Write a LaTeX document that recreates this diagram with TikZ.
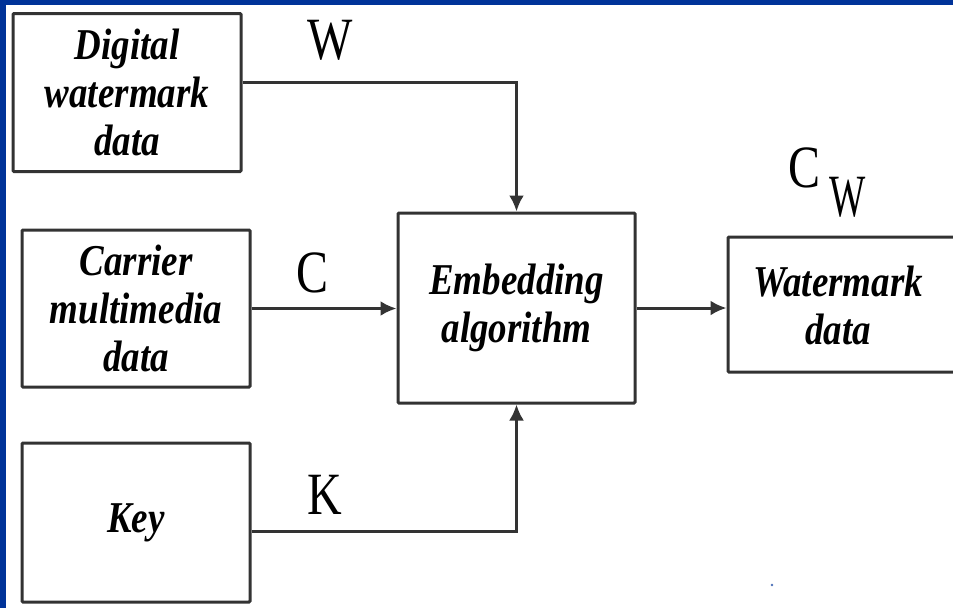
\documentclass[tikz,border=0pt]{standalone}
\usepackage{fontspec}
\setmainfont{Liberation Serif}
\newfontfamily\boxfont{Liberation Serif}[FakeStretch=0.84]
\newfontfamily\labfont{Liberation Serif}[FakeStretch=0.8]
\usetikzlibrary{arrows.meta,calc}
\definecolor{frameblue}{HTML}{003399}
\definecolor{ink}{HTML}{333333}
\tikzset{
  block/.style={draw=ink, line width=3pt, rounded corners=1pt, fill=white,
    inner sep=0pt, align=center,
    font=\boxfont\bfseries\itshape\fontsize{44}{48}\selectfont},
  conn/.style={draw=ink, line width=3pt,
    -{Latex[length=16pt,width=15pt]}},
  sig/.style={inner sep=0pt, text depth=0pt,
    font=\labfont\fontsize{60}{60}\selectfont}
}
\begin{document}
\begin{tikzpicture}[x=1pt, y=-1pt]
  \useasboundingbox (0,0) rectangle (953,608);
  \fill[white] (0,0) rectangle (953,608);

  % source blocks
  \node[block, minimum width=228pt, minimum height=158pt] (dig) at (127,92.5)
    {Digital\\watermark\\data};
  \node[block, minimum width=228pt, minimum height=157pt] (car) at (136,308.5)
    {Carrier\\multimedia\\data};
  \node[block, minimum width=228pt, minimum height=159pt] (key) at (136,522.5)
    {Key};

  % embedding stage
  \node[block, minimum width=237pt, minimum height=190pt] (emb) at (516.5,308)
    {Embedding\\algorithm};

  % output block (runs off the right edge)
  \node[block, minimum width=247pt, minimum height=135pt] (wm) at (851.5,304.5) {};
  \node[block, draw=none, fill=none] (wmtext) at (838,305) {Watermark\\data};

  % connectors
  \draw[conn] (dig.east |- 0,82) -| (emb.north);
  \draw[conn] (car.east) -- (emb.west |- car.east);
  \draw[conn] (key.east |- 0,531) -| (emb.south);
  \draw[conn] (emb.east) -- (emb.east -| wm.west);

  % signal labels
  \node[sig] (lw) at (330,40) {W};
  \node[sig] (lc) at (313,273) {C};
  \node[sig] (lk) at (325,495) {K};
  \node[sig] (lcw) at (804,168) {C};
  \node[sig] (lcwsub) at (848,197) {\scalebox{0.8}[1]{W}};

  % stray speck
  \fill[frameblue!70] (772,585) circle (1.3pt);

  % blue frame along top and left edges
  \fill[frameblue] (0,0) rectangle (953,5);
  \fill[frameblue] (0,0) rectangle (6,608);
\end{tikzpicture}
\end{document}
